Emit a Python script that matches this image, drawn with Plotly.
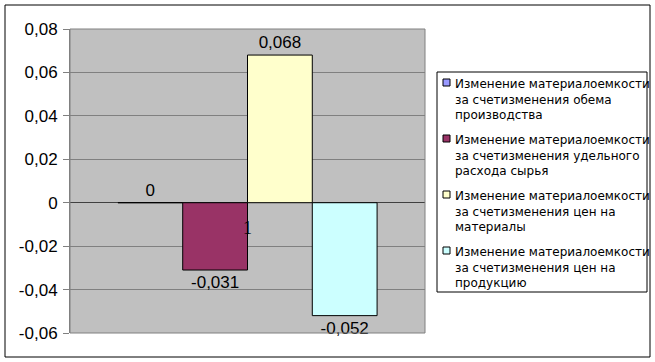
import plotly.graph_objects as go

categories = ["1"]
series_names = [
    "Изменение материалоемкости<br>за счетизменения обема<br>производства",
    "Изменение материалоемкости<br>за счетизменения удельного<br>расхода сырья",
    "Изменение материалоемкости<br>за счетизменения цен на<br>материалы",
    "Изменение материалоемкости<br>за счетизменения цен на<br>продукцию",
]
series_values = [0.0, -0.031, 0.068, -0.052]
series_colors = ["#9999FF", "#993366", "#FFFFCC", "#CCFFFF"]
y_tickvals = [-0.06, -0.04, -0.02, 0, 0.02, 0.04, 0.06, 0.08]
y_ticktext = ["-0,06", "-0,04", "-0,02", "0", "0,02", "0,04", "0,06", "0,08"]


def fmt(v):
    if v == 0:
        return "0"
    return ("%.3f" % v).replace(".", ",")


SANS = "Liberation Sans, Arial, sans-serif"

fig = go.Figure()
for i, (name, val, col) in enumerate(zip(series_names, series_values, series_colors)):
    fig.add_trace(go.Bar(
        x=categories, y=[val], name=name.replace("<br>", " "),
        marker=dict(color=col, line=dict(color="#000000", width=1)),
        text=[fmt(val)], textposition="outside", cliponaxis=False,
        textfont=dict(family=SANS, size=17, color="#000000"),
        showlegend=False,
    ))

ymin, ymax = -0.06, 0.08
zero_frac = (0 - ymin) / (ymax - ymin)

L, R, T, B = 70, 230, 29, 29
W, H = 655, 362
pw, ph = W - L - R, H - T - B


def px(x):
    return (x - L) / pw


def py(y):
    return (H - B - y) / ph


shapes = [
    # outer chart border
    dict(type="rect", xref="paper", yref="paper",
         x0=px(5), x1=px(650), y0=py(357), y1=py(5),
         line=dict(color="#000000", width=1), fillcolor="rgba(0,0,0,0)", layer="below"),
    # plot area frame
    dict(type="rect", xref="paper", yref="paper", x0=0, x1=1, y0=0, y1=1,
         line=dict(color="#808080", width=1), fillcolor="rgba(0,0,0,0)", layer="above"),
    # legend box
    dict(type="rect", xref="paper", yref="paper",
         x0=px(437), x1=px(647), y0=py(292), y1=py(72),
         line=dict(color="#000000", width=1), fillcolor="#FFFFFF", layer="below"),
]
annotations = []
item_step = 56
first_top = 75
for i, (name, col) in enumerate(zip(series_names, series_colors)):
    top = first_top + i * item_step
    shapes.append(dict(type="rect", xref="paper", yref="paper",
                       x0=px(443), x1=px(450), y0=py(top + 11), y1=py(top + 4),
                       line=dict(color="#000000", width=1), fillcolor=col, layer="above"))
    annotations.append(dict(
        xref="paper", yref="paper", x=px(453), y=py(top),
        xanchor="left", yanchor="top", align="left", showarrow=False,
        text=name, font=dict(family="DejaVu Sans, sans-serif", size=12, color="#000000"),
    ))

fig.update_layout(
    width=W, height=H,
    margin=dict(l=L, r=R, t=T, b=B),
    paper_bgcolor="#FFFFFF",
    plot_bgcolor="#C0C0C0",
    barmode="group",
    bargap=0.27,
    bargroupgap=0,
    showlegend=False,
    xaxis=dict(
        type="category", range=[-0.5, 0.5],
        anchor="free", position=zero_frac,
        showline=False, showgrid=False, ticks="",
        tickfont=dict(family="Liberation Serif, Times New Roman, serif", size=18, color="#000000"),
        ticklabelstandoff=12,
        fixedrange=True,
    ),
    yaxis=dict(
        range=[ymin, ymax],
        tickvals=y_tickvals, ticktext=y_ticktext,
        tickfont=dict(family=SANS, size=17, color="#000000"),
        showgrid=True, gridcolor="#808080", gridwidth=1,
        zeroline=True, zerolinecolor="#404040", zerolinewidth=1,
        showline=True, linecolor="#808080", linewidth=1,
        ticks="outside", ticklen=6, tickcolor="#808080",
        ticklabelstandoff=2,
        fixedrange=True,
    ),
    shapes=shapes,
    annotations=annotations,
)

fig.write_html("out.html")
